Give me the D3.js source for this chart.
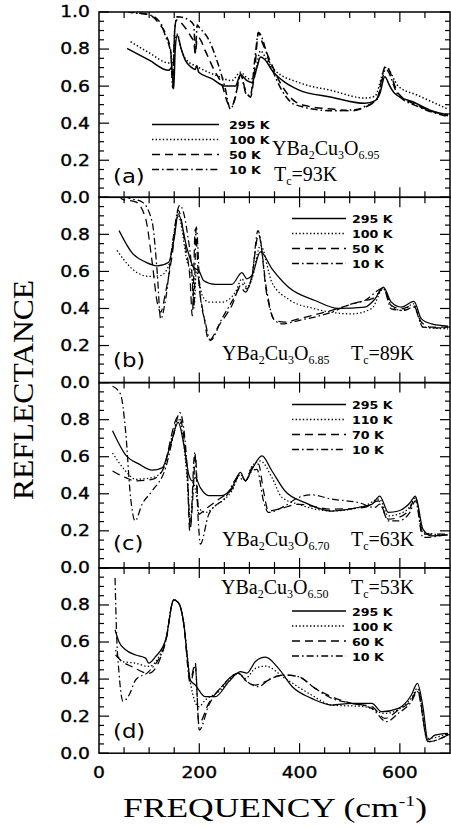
<!DOCTYPE html>
<html><head><meta charset="utf-8">
<script src="https://cdn.jsdelivr.net/npm/d3@7"></script>
<style>html,body{margin:0;padding:0;background:#fff;}svg{display:block;}</style>
</head><body>
<svg id="chart" width="451" height="827"></svg>
<script>
// ---------- DATA: [frequency cm-1, reflectance] ----------
const a295 = [[56,0.803],[100,0.74],[139,0.685],[145,0.70],[149,0.585],[152,0.80],[156,0.875],[164,0.80],[172,0.74],[185,0.70],[192,0.69],[195,0.71],[199,0.675],[225,0.64],[252,0.60],[272,0.60],[282,0.66],[295,0.63],[305,0.62],[315,0.70],[322,0.757],[330,0.745],[345,0.685],[371,0.62],[398,0.58],[464,0.54],[530,0.507],[550,0.52],[560,0.56],[570,0.65],[580,0.60],[590,0.56],[630,0.51],[663,0.467],[696,0.445]];
const a100 = [[63,0.84],[100,0.78],[139,0.725],[147,0.73],[152,0.85],[156,0.88],[164,0.80],[172,0.75],[199,0.70],[232,0.66],[265,0.63],[282,0.675],[298,0.64],[308,0.64],[322,0.79],[335,0.74],[351,0.685],[398,0.62],[464,0.576],[530,0.536],[550,0.545],[572,0.70],[597,0.60],[636,0.55],[696,0.476]];
const a50 = [[55,1.01],[66,1.0],[100,0.985],[119,0.94],[133,0.88],[143,0.79],[147,0.65],[151,0.90],[154,0.957],[172,0.915],[185,0.86],[189,0.84],[192,0.775],[196,0.86],[199,0.86],[212,0.79],[229,0.69],[245,0.61],[259,0.50],[265,0.495],[275,0.58],[282,0.66],[292,0.58],[302,0.54],[311,0.70],[318,0.89],[325,0.84],[338,0.757],[361,0.62],[385,0.53],[411,0.495],[464,0.476],[504,0.467],[530,0.486],[554,0.53],[572,0.71],[597,0.56],[636,0.495],[696,0.44]];
const a10 = [[55,1.01],[60,1.0],[100,0.985],[123,0.94],[133,0.866],[143,0.78],[147,0.59],[151,0.90],[156,0.975],[179,0.957],[189,0.93],[192,0.78],[196,0.93],[199,0.92],[219,0.85],[235,0.74],[252,0.585],[262,0.476],[272,0.54],[282,0.667],[295,0.55],[302,0.55],[311,0.75],[318,0.89],[341,0.72],[365,0.576],[391,0.50],[464,0.467],[517,0.475],[530,0.49],[555,0.53],[572,0.69],[597,0.55],[636,0.49],[696,0.435]];

const b295 = [[40,0.82],[66,0.70],[93,0.65],[116,0.63],[139,0.65],[150,0.78],[158,0.91],[176,0.72],[189,0.62],[199,0.605],[209,0.55],[232,0.53],[265,0.53],[285,0.593],[295,0.56],[305,0.578],[322,0.705],[345,0.614],[378,0.515],[431,0.443],[477,0.40],[530,0.407],[550,0.45],[567,0.515],[583,0.434],[603,0.407],[628,0.438],[643,0.344],[663,0.317],[696,0.305]];
const b100 = [[36,0.713],[66,0.614],[99,0.573],[123,0.578],[139,0.632],[158,0.90],[176,0.65],[186,0.56],[190,0.42],[194,0.60],[206,0.47],[219,0.434],[245,0.434],[272,0.488],[285,0.56],[295,0.515],[305,0.56],[322,0.74],[345,0.54],[378,0.45],[431,0.398],[504,0.371],[544,0.40],[567,0.506],[583,0.416],[603,0.389],[628,0.425],[646,0.30],[696,0.29]];
const b50 = [[40,1.01],[46,0.99],[73,0.975],[93,0.885],[106,0.65],[116,0.434],[123,0.38],[133,0.49],[146,0.69],[158,0.93],[172,0.74],[182,0.542],[186,0.36],[192,0.83],[199,0.542],[209,0.362],[219,0.227],[239,0.308],[265,0.416],[282,0.515],[292,0.488],[305,0.578],[318,0.80],[335,0.47],[351,0.335],[371,0.326],[398,0.344],[464,0.39],[517,0.434],[550,0.46],[567,0.51],[583,0.416],[603,0.398],[627,0.416],[643,0.326],[663,0.299],[696,0.299]];
const b10 = [[50,1.01],[56,1.0],[86,0.975],[106,0.867],[116,0.60],[123,0.344],[133,0.452],[146,0.74],[161,0.957],[176,0.81],[186,0.56],[189,0.40],[194,0.84],[202,0.47],[212,0.326],[222,0.227],[245,0.344],[272,0.47],[285,0.533],[295,0.506],[305,0.57],[317,0.82],[335,0.488],[348,0.344],[365,0.317],[398,0.335],[464,0.38],[504,0.425],[530,0.443],[567,0.51],[583,0.398],[607,0.389],[628,0.407],[646,0.299],[696,0.294]];

const c295 = [[27,0.74],[53,0.61],[80,0.56],[106,0.527],[126,0.54],[143,0.667],[158,0.785],[169,0.667],[179,0.505],[186,0.47],[192,0.487],[202,0.433],[219,0.39],[245,0.39],[265,0.433],[282,0.515],[292,0.47],[305,0.532],[325,0.604],[345,0.523],[371,0.415],[411,0.352],[464,0.307],[517,0.326],[544,0.343],[560,0.388],[577,0.30],[597,0.307],[620,0.35],[631,0.388],[646,0.209],[663,0.173],[696,0.178]];
const c110 = [[27,0.62],[53,0.523],[73,0.478],[106,0.487],[126,0.523],[159,0.80],[176,0.47],[182,0.254],[189,0.452],[199,0.325],[212,0.299],[232,0.335],[265,0.416],[282,0.505],[292,0.47],[305,0.55],[322,0.577],[345,0.487],[365,0.38],[398,0.343],[464,0.307],[530,0.335],[559,0.371],[577,0.281],[597,0.29],[620,0.33],[631,0.38],[646,0.19],[696,0.178]];
const c70 = [[27,0.523],[53,0.487],[73,0.47],[106,0.478],[126,0.523],[159,0.82],[176,0.505],[181,0.20],[189,0.47],[192,0.613],[199,0.29],[212,0.317],[239,0.371],[265,0.425],[282,0.505],[292,0.47],[305,0.541],[318,0.56],[328,0.416],[338,0.307],[358,0.317],[398,0.343],[464,0.317],[530,0.326],[557,0.362],[577,0.263],[597,0.272],[620,0.32],[631,0.38],[646,0.182],[696,0.182]];
const c10 = [[27,0.98],[43,0.937],[53,0.74],[63,0.38],[72,0.254],[86,0.344],[106,0.415],[133,0.541],[149,0.72],[161,0.838],[176,0.541],[182,0.218],[191,0.622],[198,0.254],[202,0.128],[219,0.29],[252,0.38],[278,0.487],[292,0.47],[305,0.523],[315,0.532],[328,0.362],[338,0.299],[371,0.335],[398,0.38],[424,0.394],[464,0.371],[517,0.353],[550,0.326],[560,0.344],[577,0.254],[597,0.254],[620,0.30],[631,0.362],[646,0.164],[696,0.182]];

const d295 = [[32,0.666],[40,0.60],[53,0.558],[73,0.53],[93,0.513],[99,0.486],[113,0.522],[133,0.612],[149,0.828],[159,0.81],[169,0.70],[176,0.522],[182,0.395],[192,0.368],[212,0.305],[232,0.305],[259,0.386],[282,0.44],[295,0.432],[312,0.495],[332,0.518],[358,0.458],[385,0.36],[424,0.296],[464,0.26],[504,0.269],[544,0.269],[564,0.224],[597,0.242],[623,0.314],[635,0.377],[646,0.25],[656,0.07],[670,0.098],[696,0.107]];
const d100 = [[33,0.557],[46,0.495],[73,0.486],[99,0.468],[133,0.612],[149,0.828],[159,0.81],[169,0.70],[182,0.386],[199,0.251],[212,0.287],[239,0.332],[278,0.431],[292,0.404],[312,0.458],[332,0.47],[371,0.404],[424,0.314],[464,0.26],[530,0.251],[570,0.215],[623,0.296],[635,0.35],[656,0.08],[696,0.107]];
const d60 = [[33,0.53],[46,0.495],[66,0.467],[99,0.431],[133,0.603],[149,0.828],[159,0.81],[169,0.70],[182,0.395],[192,0.486],[199,0.16],[219,0.27],[245,0.36],[278,0.431],[295,0.386],[312,0.368],[332,0.386],[351,0.413],[371,0.422],[398,0.413],[431,0.35],[464,0.305],[504,0.269],[544,0.251],[570,0.188],[597,0.233],[623,0.287],[635,0.341],[656,0.062],[696,0.098]];
const d10 = [[32,0.945],[35,0.65],[40,0.43],[48,0.28],[60,0.314],[73,0.395],[99,0.44],[133,0.603],[149,0.828],[159,0.81],[169,0.70],[182,0.377],[192,0.468],[200,0.125],[219,0.26],[245,0.36],[278,0.431],[295,0.386],[318,0.359],[338,0.395],[371,0.422],[398,0.413],[431,0.35],[464,0.296],[504,0.269],[544,0.242],[573,0.17],[597,0.215],[623,0.278],[635,0.332],[656,0.062],[696,0.098]];

const panelSeries = [[a295,a100,a50,a10],[b295,b100,b50,b10],[c295,c110,c70,c10],[d295,d100,d60,d10]];
const panelLabels = ["(a)","(b)","(c)","(d)"];
const legendTemps = [["295 K","100 K","50 K","10 K"],["295 K","100 K","50 K","10 K"],["295 K","110 K","70 K","10 K"],["295 K","100 K","60 K","10 K"]];
const oxygen = ["6.95","6.85","6.70","6.50"];
const tcValues = ["93K","89K","63K","53K"];
const xTickValues = [0,200,400,600];
const yTickValues = [0,0.2,0.4,0.6,0.8,1.0];

// ---------- LAYOUT ----------
const svg = d3.select("#chart");
const X0 = 99, X1 = 450;
const tops = [12, 197.3, 382.6, 567.9];
const PH = 185.3;
const x = d3.scaleLinear().domain([0,700]).range([X0, X1]);
const dashes = [null, "1.4,2.2", "8,5", "7,3,1.6,3"];
const sansF = "'DejaVu Sans', sans-serif";
const serifF = "'Liberation Serif', 'Times New Roman', serif";

const legendPos = [
  {x0:152, x1:219, tx:229, y:124.5},
  {x0:292, x1:346, tx:352, y:218.5},
  {x0:292, x1:346, tx:352, y:404.5},
  {x0:292, x1:346, tx:352, y:611}
];
const formulaPos = [
  {fx:272, fy:155, tx:274, ty:181},
  {fx:222, fy:360, tx:351, ty:360},
  {fx:222, fy:546, tx:351, ty:546},
  {fx:221, fy:594, tx:351, ty:594}
];
const labelPos = [183, 367, 550, 738];

const defs = svg.append("defs");

panelSeries.forEach((series, i) => {
  const top = tops[i];
  const y = d3.scaleLinear().domain([0,1]).range([top+PH, top]);
  const g = svg.append("g");
  defs.append("clipPath").attr("id","clip"+i).append("rect")
    .attr("x",X0).attr("y",top).attr("width",X1-X0).attr("height",PH);

  const line = d3.line().x(d=>x(d[0])).y(d=>y(d[1])).curve(d3.curveMonotoneX);
  const cg = g.append("g").attr("clip-path","url(#clip"+i+")");
  series.forEach((s, k) => {
    cg.append("path").datum(s).attr("d", line)
      .attr("fill","none").attr("stroke","#000")
      .attr("stroke-width", i===0 ? 1.5 : 1.25)
      .attr("stroke-dasharray", dashes[k]);
  });

  // y ticks (left & right, inward)
  const yMinor = d3.range(0, 1.0001, 0.05);
  yMinor.forEach(v => {
    const major = Math.abs(v*5 - Math.round(v*5)) < 1e-6;
    const L = major ? 10 : 5;
    const yy = y(v);
    g.append("line").attr("x1",X0).attr("x2",X0+L).attr("y1",yy).attr("y2",yy).attr("stroke","#000").attr("stroke-width",1.2);
    g.append("line").attr("x1",X1).attr("x2",X1-L).attr("y1",yy).attr("y2",yy).attr("stroke","#000").attr("stroke-width",1.2);
  });
  // x ticks (top & bottom, inward)
  d3.range(50, 700, 50).forEach(v => {
    const major = v % 200 === 0;
    const L = major ? 10 : 6;
    const xx = x(v);
    g.append("line").attr("x1",xx).attr("x2",xx).attr("y1",top).attr("y2",top+L).attr("stroke","#000").attr("stroke-width",1.2);
    g.append("line").attr("x1",xx).attr("x2",xx).attr("y1",top+PH).attr("y2",top+PH-L).attr("stroke","#000").attr("stroke-width",1.2);
  });

  // y tick labels
  yTickValues.filter(v => i===0 || v < 0.99).forEach(v => {
    g.append("text").attr("transform",`translate(90,${y(v)}) scale(1.25,1)`)
      .attr("text-anchor","end").attr("dy","0.36em")
      .attr("font-family",sansF).attr("font-size",15)
      .attr("stroke","#000").attr("stroke-width",0.35)
      .text(d3.format(".1f")(v));
  });

  // legend
  const lp = legendPos[i];
  legendTemps[i].forEach((t, k) => {
    const ly = lp.y + k*15;
    g.append("line").attr("x1",lp.x0).attr("x2",lp.x1).attr("y1",ly).attr("y2",ly)
      .attr("stroke","#000").attr("stroke-width", i===0 ? 1.6 : 1.3)
      .attr("stroke-dasharray", dashes[k]);
    g.append("text").attr("transform",`translate(${lp.tx},${ly+4.5}) scale(1.15,1)`)
      .attr("font-family",sansF).attr("font-weight","bold").attr("font-size",11)
      .text(t);
  });

  // formula
  const fp = formulaPos[i];
  const ft = g.append("text").attr("x",fp.fx).attr("y",fp.fy)
    .attr("font-family",serifF).attr("font-size",20);
  ft.append("tspan").text("YBa");
  ft.append("tspan").attr("font-size",12).attr("dy",4).text("2");
  ft.append("tspan").attr("dy",-4).text("Cu");
  ft.append("tspan").attr("font-size",12).attr("dy",4).text("3");
  ft.append("tspan").attr("dy",-4).text("O");
  ft.append("tspan").attr("font-size",12).attr("dy",4).text(oxygen[i]);
  const tt = g.append("text").attr("x",fp.tx).attr("y",fp.ty)
    .attr("font-family",serifF).attr("font-size",20);
  tt.append("tspan").text("T");
  tt.append("tspan").attr("font-size",12).attr("dy",4).text("c");
  tt.append("tspan").attr("dy",-4).text("=" + tcValues[i]);

  // panel label
  g.append("text").attr("transform",`translate(113,${labelPos[i]}) scale(1.2,1)`)
    .attr("font-family",sansF).attr("font-size",19)
    .text(panelLabels[i]);

  // frame
  g.append("rect").attr("x",X0).attr("y",top).attr("width",X1-X0).attr("height",PH)
    .attr("fill","none").attr("stroke","#000").attr("stroke-width",1.5);
});

// x tick labels
const bottom = tops[3] + PH;
xTickValues.forEach(v => {
  svg.append("text").attr("transform",`translate(${x(v)},${bottom+25}) scale(1.25,1)`)
    .attr("text-anchor","middle")
    .attr("font-family",sansF).attr("font-size",15)
    .attr("stroke","#000").attr("stroke-width",0.35)
    .text(v);
});

// axis titles
svg.append("text").attr("transform","translate(33,390) rotate(-90)")
  .attr("text-anchor","middle").attr("font-family",serifF).attr("font-size",30)
  .attr("textLength",220).attr("lengthAdjust","spacingAndGlyphs")
  .text("REFLECTANCE");

const xt = svg.append("text").attr("x",123).attr("y",817)
  .attr("font-family",serifF).attr("font-size",27)
  .attr("textLength",304).attr("lengthAdjust","spacingAndGlyphs");
xt.append("tspan").text("FREQUENCY (cm");
xt.append("tspan").attr("font-size",15).attr("dy",-11).text("-1");
xt.append("tspan").attr("dy",11).text(")");
</script>
</body></html>
